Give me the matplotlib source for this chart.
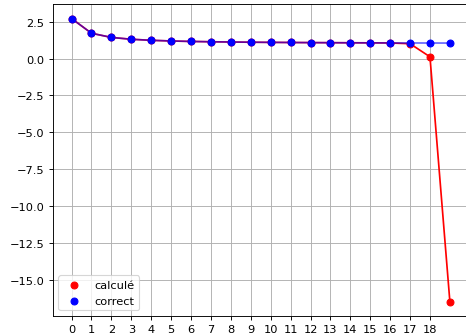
import matplotlib
matplotlib.use("Agg")
import matplotlib.pyplot as plt

n = list(range(20))
correct = [2.718, 1.718, 1.436, 1.310, 1.239, 1.194, 1.163, 1.141, 1.124, 1.110,
           1.100, 1.091, 1.083, 1.077, 1.071, 1.067, 1.062, 1.059, 1.056, 1.053]
calcule = [2.718, 1.718, 1.436, 1.310, 1.239, 1.194, 1.163, 1.141, 1.124, 1.110,
           1.100, 1.091, 1.083, 1.077, 1.071, 1.067, 1.059, 1.008, 0.12, -16.5]
xticks = list(range(19))

DPI = 82
fig = plt.figure(figsize=(466 / DPI, 335 / DPI), dpi=DPI)
ax = fig.add_axes([0.113, 0.054, 0.893, 0.93])

ax.plot(n, calcule, color="red")
ax.plot(n, correct, color="blue", alpha=0.6)
ax.scatter(n, calcule, color="red", label="calculé", zorder=3)
ax.scatter(n, correct, color="blue", label="correct", zorder=3)

ax.set_xticks(xticks)
ax.grid(True)
ax.legend(loc="lower left")

fig.savefig("out.png", dpi=DPI)
